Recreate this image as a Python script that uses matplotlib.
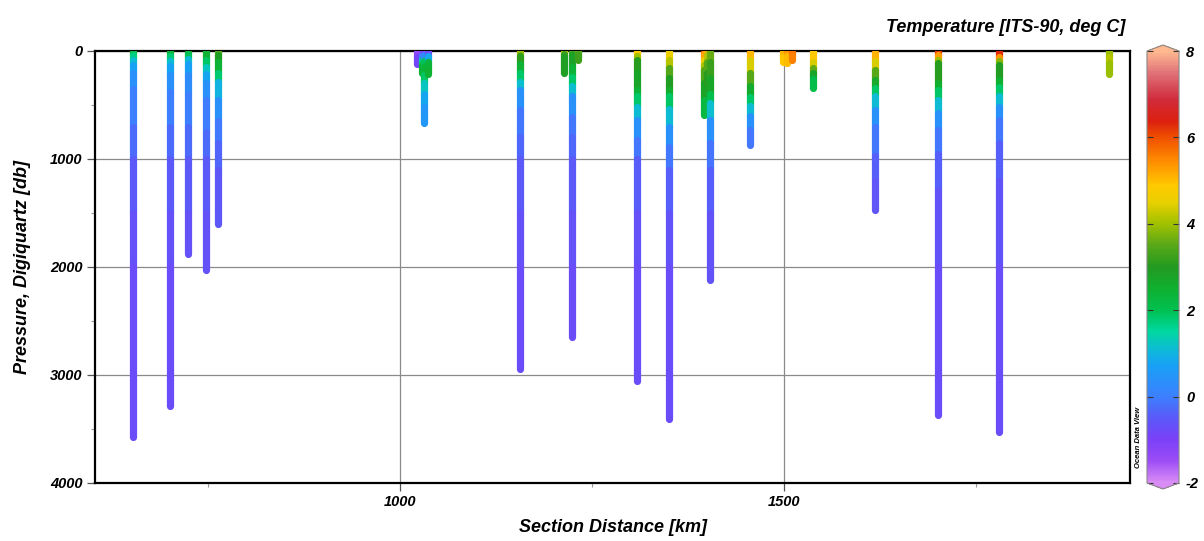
import numpy as np
import matplotlib
matplotlib.use('Agg')
import matplotlib.pyplot as plt
from matplotlib.collections import LineCollection
from matplotlib.colors import LinearSegmentedColormap, Normalize

plt.rcParams['font.family'] = ['Liberation Sans', 'DejaVu Sans']
plt.rcParams['font.weight'] = 'bold'
plt.rcParams['font.style'] = 'italic'
plt.rcParams['axes.labelweight'] = 'bold'
plt.rcParams['axes.unicode_minus'] = False

# station positions along the section [km]
station_km = [652, 700, 724, 748, 763,
              1022, 1028, 1031, 1037,
              1156, 1213, 1224, 1232, 1309, 1350,
              1395, 1400, 1404, 1456,
              1499, 1504, 1510, 1538,
              1618, 1700, 1779, 1923]

# pressure levels [db] read from each profile
station_pres = [
    [0, 40, 80, 130, 200, 350, 700, 1000, 1500, 2000, 3570],
    [0, 50, 90, 140, 220, 380, 700, 1000, 1500, 2000, 3290],
    [0, 30, 70, 120, 220, 400, 700, 1000, 1500, 1880],
    [0, 80, 150, 210, 300, 450, 750, 1000, 1500, 2030],
    [0, 40, 100, 200, 290, 450, 650, 850, 1100, 1600],
    [0, 60, 120],
    [0, 40, 80, 130, 200],
    [0, 40, 90, 150, 220, 300, 400, 520, 670],
    [0, 50, 100, 180, 210],
    [0, 15, 50, 120, 200, 285, 360, 550, 800, 1000, 1500, 2000, 2940],
    [0, 25, 60, 205],
    [0, 10, 40, 150, 240, 320, 420, 610, 800, 1000, 1500, 2000, 2645],
    [0, 40, 80],
    [0, 50, 80, 200, 360, 420, 515, 640, 820, 1000, 1500, 2000, 3060],
    [0, 80, 160, 250, 360, 420, 540, 700, 885, 1100, 1500, 2000, 3410],
    [0, 30, 80, 130, 180, 300, 450, 590],
    [0, 40, 100, 200, 300],
    [0, 100, 250, 400, 480, 640, 850, 1100, 1500, 2120],
    [0, 20, 80, 200, 320, 430, 510, 600, 730, 870],
    [0, 60, 100],
    [0, 50, 110],
    [0, 40, 80],
    [0, 100, 155, 200, 260, 340],
    [0, 20, 90, 175, 270, 340, 420, 545, 700, 975, 1200, 1475],
    [0, 40, 80, 110, 300, 360, 450, 575, 730, 950, 1300, 2000, 3370],
    [0, 60, 90, 130, 270, 330, 420, 515, 640, 850, 1200, 2000, 3530],
    [0, 60, 110, 210],
]

# temperature [ITS-90, deg C] at those levels
station_temp = [
    [2.3, 2.1, 1.3, 0.9, 0.6, 0.1, -0.1, -0.4, -0.6, -0.7, -0.75],
    [2.4, 2.2, 1.3, 0.9, 0.6, 0.1, -0.1, -0.4, -0.6, -0.7, -0.75],
    [3.4, 2.6, 1.3, 0.9, 0.5, 0.1, -0.1, -0.4, -0.6, -0.7],
    [2.6, 2.3, 1.5, 1.0, 0.6, 0.1, -0.15, -0.4, -0.6, -0.7],
    [3.8, 3.2, 2.6, 2.2, 1.4, 0.6, 0.1, -0.2, -0.45, -0.65],
    [-1.4, -1.2, -0.6],
    [-1.3, -1.0, 1.0, 2.4, 2.5],
    [-1.2, -0.9, 1.5, 2.4, 2.3, 1.5, 1.0, 0.6, 0.4],
    [-1.2, -0.5, 2.2, 2.5, 2.5],
    [6.0, 4.2, 3.5, 2.7, 2.2, 1.5, 0.8, 0.0, -0.2, -0.4, -0.6, -0.7, -0.75],
    [4.8, 3.4, 3.0, 2.8],
    [5.0, 3.6, 3.0, 2.6, 2.2, 1.5, 0.8, 0.0, -0.2, -0.4, -0.6, -0.7, -0.75],
    [3.6, 3.3, 3.2],
    [5.0, 4.8, 3.2, 2.9, 2.6, 2.2, 1.5, 0.7, 0.1, -0.3, -0.6, -0.7, -0.75],
    [4.7, 4.5, 3.8, 3.1, 2.8, 2.3, 1.5, 0.7, 0.1, -0.3, -0.55, -0.7, -0.75],
    [6.3, 5.6, 4.8, 4.3, 3.8, 3.0, 2.6, 1.9],
    [5.8, 4.5, 3.8, 3.2, 2.9],
    [3.8, 3.4, 3.0, 2.5, 1.6, 0.7, 0.0, -0.3, -0.55, -0.7],
    [6.0, 5.3, 4.8, 4.0, 3.0, 2.2, 1.5, 0.7, 0.1, -0.3],
    [5.2, 4.9, 4.9],
    [5.6, 5.1, 4.9],
    [5.8, 5.6, 5.5],
    [5.0, 4.8, 4.0, 3.1, 2.4, 1.8],
    [6.0, 5.4, 4.8, 4.0, 3.0, 2.3, 1.5, 0.7, 0.1, -0.3, -0.5, -0.65],
    [6.3, 6.0, 4.6, 3.3, 2.8, 2.3, 1.5, 0.7, 0.1, -0.3, -0.55, -0.7, -0.75],
    [6.4, 6.2, 4.5, 3.1, 2.8, 2.2, 1.5, 0.7, 0.1, -0.3, -0.55, -0.7, -0.75],
    [3.9, 4.0, 4.3, 3.6],
]

# ODV-like palette (temperature, colour)
odv_levels = [-2, -1.5, -1, -0.5, 0, 0.7, 1.0, 1.5, 2.0, 2.5, 3.0, 3.5,
              4.0, 4.5, 4.9, 5.5, 6.0, 6.4, 6.9, 7.5, 8.0]
odv_colors = ['#d88cf4', '#9c4cf6', '#7a40f8', '#5a5af8', '#3c80ff', '#18a0f6',
              '#10b4e0', '#00d8a0', '#00c050', '#10b030', '#229a20', '#58a818',
              '#a0c000', '#e8d000', '#ffc800', '#ff8800', '#f05000', '#dc2010',
              '#d02c3c', '#e07078', '#ffb890']

vmin, vmax = -2, 8
cmap = LinearSegmentedColormap.from_list(
    'odv', [((v - vmin) / (vmax - vmin), c) for v, c in zip(odv_levels, odv_colors)])
norm = Normalize(vmin, vmax)

fig = plt.figure(figsize=(12.04, 5.41), dpi=100)
ax = fig.add_axes([95 / 1204, 1 - 483 / 541, 1035 / 1204, 432 / 541])

# one coloured bar per cast, each piece coloured by its mean temperature
for km, p, t in zip(station_km, station_pres, station_temp):
    p = np.asarray(p, float)
    t = np.asarray(t, float)
    segs = [[(km, p[i]), (km, p[i + 1])] for i in range(len(p) - 1)]
    cols = cmap(norm((t[:-1] + t[1:]) / 2))
    lc = LineCollection(segs, colors=cols, linewidths=5.2, capstyle='round', zorder=3)
    ax.add_collection(lc)

ax.set_xlim(603, 1950)
ax.set_ylim(4000, 0)
ax.set_xticks([1000, 1500])
ax.set_xticks([750, 1250, 1750], minor=True)
ax.set_yticks([0, 1000, 2000, 3000, 4000])
ax.set_yticks([500, 1500, 2500, 3500], minor=True)
ax.grid(True, which='major', color='#8a8a8a', linewidth=0.9, zorder=1)
ax.tick_params(which='major', length=6, width=0.9, color='#555555', labelsize=10.5, pad=3)
ax.tick_params(which='minor', length=3, width=0.8, color='#999999')
for s in ax.spines.values():
    s.set_linewidth(1.6)
    s.set_color('black')

ax.set_xlabel('Section Distance [km]', fontsize=13, fontweight='bold',
              fontstyle='italic', labelpad=7)
ax.set_ylabel('Pressure, Digiquartz [db]', fontsize=13, fontweight='bold',
              fontstyle='italic', labelpad=14)

fig.text(1125 / 1204, 1 - 28 / 541, 'Temperature [ITS-90, deg C]', fontsize=13,
         ha='right', va='center')

# colour bar (axes box includes the two end arrows)
cax = fig.add_axes([1147 / 1204, 1 - 489 / 541, 32 / 1204, 444 / 541])
cb = fig.colorbar(plt.cm.ScalarMappable(norm=norm, cmap=cmap), cax=cax,
                  extend='both', extendfrac=0.014)
cb.set_ticks([-2, 0, 2, 4, 6, 8])
cb.outline.set_edgecolor('#888888')
cb.outline.set_linewidth(0.8)
cax.tick_params(length=4, width=0.8, color='#333333', direction='in',
                left=True, right=True, labelsize=10.5, pad=5)

fig.text(1138 / 1204, 1 - 437 / 541, 'Ocean Data View', fontsize=5.5,
         rotation=90, ha='center', va='center')

fig.savefig('out.png', dpi=100)
